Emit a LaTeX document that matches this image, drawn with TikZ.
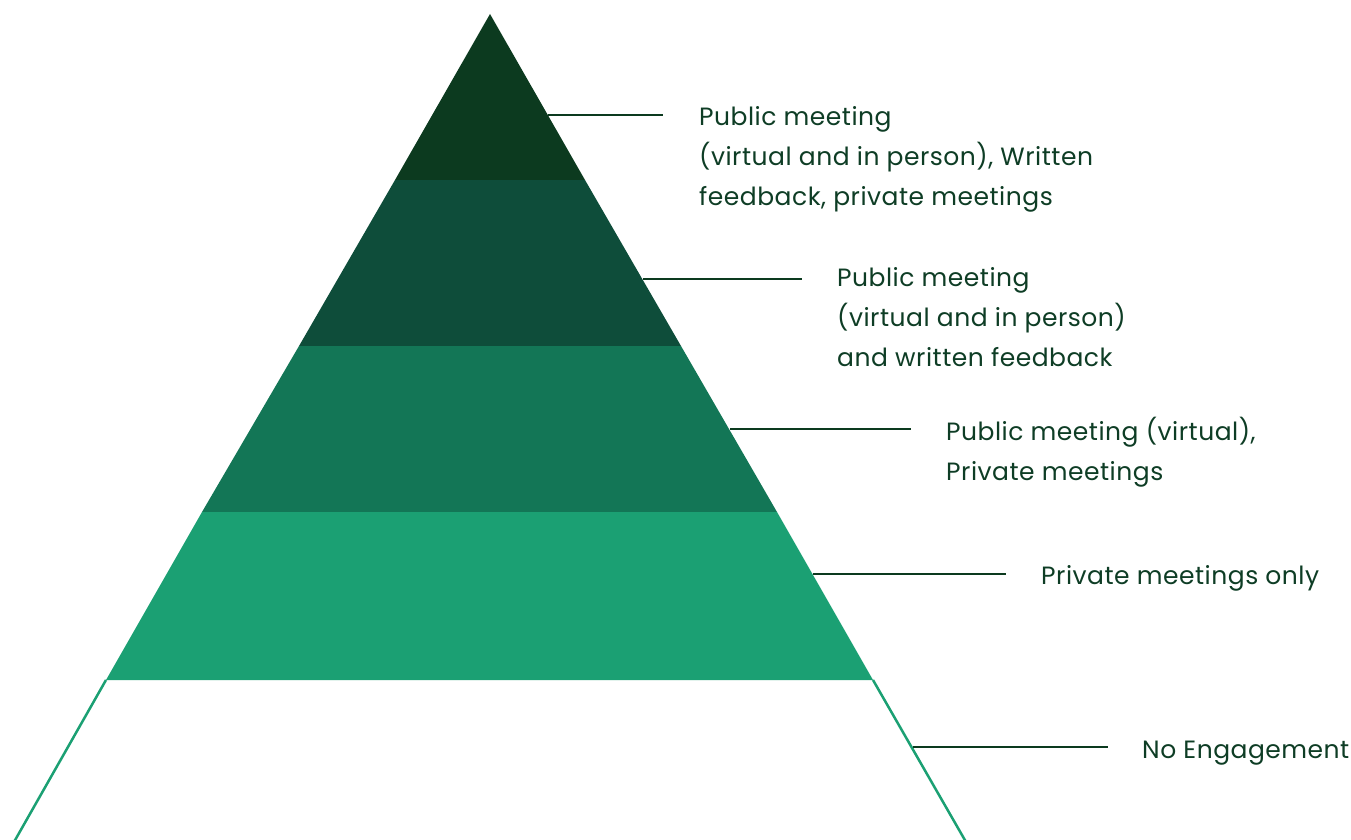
\documentclass[tikz,border=0pt]{standalone}
\usepackage{fontspec}
\setmainfont{Poppins}[LetterSpace=2]
\definecolor{c1}{HTML}{0C3A1F}
\definecolor{c2}{HTML}{0E4D3A}
\definecolor{c3}{HTML}{137656}
\definecolor{c4}{HTML}{1BA073}
\definecolor{txt}{HTML}{0E3D25}
\tikzset{
  lbl/.style={anchor=west, align=left, inner sep=0pt, text=txt, font=\fontsize{25pt}{40pt}\selectfont},
  leader/.style={draw=c1, line width=2pt},
}
\begin{document}
\begin{tikzpicture}[x=1pt,y=-1pt]
\useasboundingbox (0,0) rectangle (1351,840);
% layers
\fill[c1] (490,14) -- (585,180) -- (395,180) -- cycle;
\fill[c2] (395,180) -- (585,180) -- (681,346) -- (299,346) -- cycle;
\fill[c3] (299,346) -- (681,346) -- (777,512) -- (202,512) -- cycle;
\fill[c4] (202,512) -- (777,512) -- (873,680) -- (106,680) -- cycle;
\draw[c4, line width=2.5pt] (106,680) -- (14,842);
\draw[c4, line width=2.5pt] (873,680) -- (966,842);
% edge coordinates and leader ends
\coordinate (e1) at (548,115);  \coordinate (l1) at (663,115);
\coordinate (e2) at (643,279);  \coordinate (l2) at (802,279);
\coordinate (e3) at (730,429);  \coordinate (l3) at (911,429);
\coordinate (e4) at (813,574);  \coordinate (l4) at (1006,574);
\coordinate (e5) at (913,747);  \coordinate (l5) at (1108,747);
\draw[leader] (e1) -- (l1);
\draw[leader] (e2) -- (l2);
\draw[leader] (e3) -- (l3);
\draw[leader] (e4) -- (l4);
\draw[leader] (e5) -- (l5);
% labels
\node[lbl] (t1) at (699,159) {Public meeting\\(virtual and in person), Written\\feedback, private meetings};
\node[lbl] (t2) at (837,317) {Public meeting\\(virtual and in person)\\and written feedback};
\node[lbl] (t3) at (946,452) {Public meeting (virtual),\\Private meetings};
\node[lbl] (t4) at (1041,578) {Private meetings only};
\node[lbl] (t5) at (1142,753) {No Engagement};
\end{tikzpicture}
\end{document}
